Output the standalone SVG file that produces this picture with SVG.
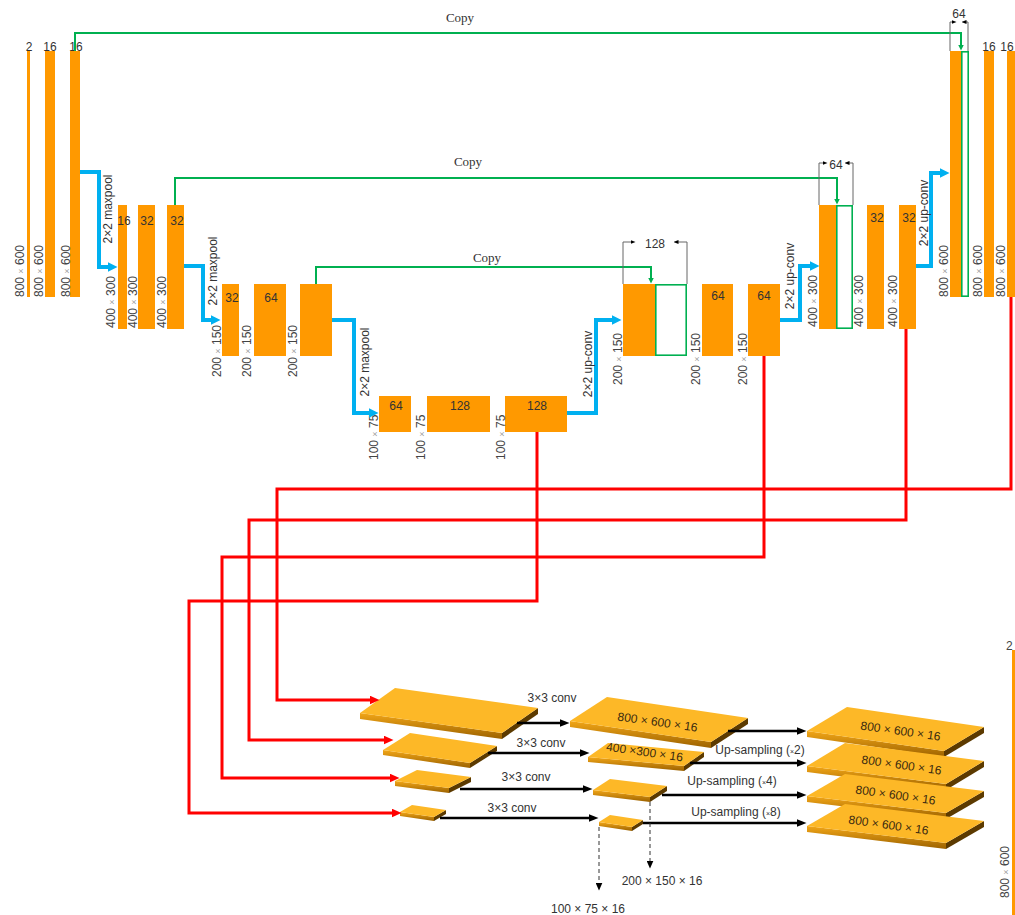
<svg xmlns="http://www.w3.org/2000/svg" width="1015" height="915" viewBox="0 0 1015 915">
<style>
.bar{fill:#FF9900}
.gbox{fill:none;stroke:#00B050;stroke-width:1.6}
.num{font-family:"Liberation Sans",Arial,sans-serif;font-size:12px;fill:#333;text-anchor:middle}
.dim{font-family:"Liberation Sans",Arial,sans-serif;font-size:12px;fill:#444}
.x{font-size:9px;fill:#999}
.xs{font-size:7px}
.op{font-family:"Liberation Sans",Arial,sans-serif;font-size:12px;fill:#333;text-anchor:middle}
.copy{font-family:"Liberation Serif","Times New Roman",serif;font-size:13px;fill:#333;text-anchor:middle}
.lbl{font-family:"Liberation Sans",Arial,sans-serif;font-size:12px;fill:#333;text-anchor:middle}
.slt{font-family:"Liberation Sans",Arial,sans-serif;font-size:12px;fill:#3a2a10;text-anchor:middle}
.top{fill:#FDB827}
.front{fill:url(#gf)}
.side{fill:#5C3A00}
.blue{fill:none;stroke:#00B0F0;stroke-width:4;marker-end:url(#mb)}
.green{fill:none;stroke:#00B050;stroke-width:2;marker-end:url(#mg)}
.red{fill:none;stroke:#FF0000;stroke-width:3;marker-end:url(#mr)}
.blk{fill:none;stroke:#000;stroke-width:2.5;marker-end:url(#mk)}
.dash{fill:none;stroke:#333;stroke-width:1;stroke-dasharray:4 3;marker-end:url(#md)}
.dimln{fill:none;stroke:#666;stroke-width:1;marker-end:url(#mq)}
</style>
<defs>
<linearGradient id="gf" x1="0" y1="0" x2="0" y2="1">
<stop offset="0" stop-color="#F2A617"/>
<stop offset="1" stop-color="#9C6200"/>
</linearGradient>
<marker id="mb" markerUnits="userSpaceOnUse" viewBox="0 0 10 10" markerWidth="10" markerHeight="11" refX="0.5" refY="5" orient="auto"><path d="M0,0 L10,5 L0,10 z" fill="#00B0F0"/></marker>
<marker id="mg" markerUnits="userSpaceOnUse" viewBox="0 0 6 6" markerWidth="6" markerHeight="6" refX="0.5" refY="3" orient="auto"><path d="M0,0 L6,3 L0,6 z" fill="#00B050"/></marker>
<marker id="mr" markerUnits="userSpaceOnUse" viewBox="0 0 10 9" markerWidth="10" markerHeight="9" refX="0.5" refY="4.5" orient="auto"><path d="M0,0 L10,4.5 L0,9 z" fill="#FF0000"/></marker>
<marker id="mk" markerUnits="userSpaceOnUse" viewBox="0 0 10 8" markerWidth="10" markerHeight="8" refX="0.5" refY="4" orient="auto"><path d="M0,0 L10,4 L0,8 z" fill="#000"/></marker>
<marker id="md" markerUnits="userSpaceOnUse" viewBox="0 0 8 7" markerWidth="8" markerHeight="7" refX="0.5" refY="3.5" orient="auto"><path d="M0,0 L8,3.5 L0,7 z" fill="#000"/></marker>
<marker id="mq" markerUnits="userSpaceOnUse" viewBox="0 0 5 4" markerWidth="5" markerHeight="4" refX="0.5" refY="2" orient="auto"><path d="M0,0 L5,2 L0,4 z" fill="#000"/></marker>
</defs>
<rect width="1015" height="915" fill="#fff"/>

<!-- Encoder level 1 -->
<g id="enc1a"><rect class="bar" x="27" y="51" width="3" height="246"/><text class="num" x="29" y="51">2</text><text class="dim" transform="translate(24,297) rotate(-90)">800 <tspan class="x">×</tspan> 600</text></g>
<g id="enc1b"><rect class="bar" x="45" y="51" width="10" height="246"/><text class="num" x="50" y="51">16</text><text class="dim" transform="translate(43,297) rotate(-90)">800 <tspan class="x">×</tspan> 600</text></g>
<g id="enc1c"><rect class="bar" x="70" y="51" width="10" height="246"/><text class="num" x="76" y="51">16</text><text class="dim" transform="translate(70,297) rotate(-90)">800 <tspan class="x">×</tspan> 600</text></g>

<!-- Encoder level 2 -->
<g id="enc2a"><rect class="bar" x="118" y="205" width="9" height="124"/><text class="num" x="124" y="225">16</text><text class="dim" transform="translate(115,328) rotate(-90)">400 <tspan class="x">×</tspan> 300</text></g>
<g id="enc2b"><rect class="bar" x="138" y="205" width="17" height="124"/><text class="num" x="147" y="225">32</text><text class="dim" transform="translate(137,328) rotate(-90)">400 <tspan class="x">×</tspan> 300</text></g>
<g id="enc2c"><rect class="bar" x="167" y="205" width="17" height="124"/><text class="num" x="177" y="225">32</text><text class="dim" transform="translate(166,328) rotate(-90)">400 <tspan class="x">×</tspan> 300</text></g>

<!-- Encoder level 3 -->
<g id="enc3a"><rect class="bar" x="222" y="284" width="17" height="72"/><text class="num" x="232" y="302">32</text><text class="dim" transform="translate(221,377) rotate(-90)">200 <tspan class="x">×</tspan> 150</text></g>
<g id="enc3b"><rect class="bar" x="254" y="284" width="32" height="72"/><text class="num" x="271" y="302">64</text><text class="dim" transform="translate(251,377) rotate(-90)">200 <tspan class="x">×</tspan> 150</text></g>
<g id="enc3c"><rect class="bar" x="300" y="284" width="32" height="72"/><text class="dim" transform="translate(297,377) rotate(-90)">200 <tspan class="x">×</tspan> 150</text></g>

<!-- Bottleneck -->
<g id="bot1"><rect class="bar" x="379" y="396" width="32" height="36"/><text class="num" x="396" y="410">64</text><text class="dim" transform="translate(378,460) rotate(-90)">100 <tspan class="x">×</tspan> 75</text></g>
<g id="bot2"><rect class="bar" x="427" y="396" width="63" height="36"/><text class="num" x="460" y="410">128</text><text class="dim" transform="translate(425,460) rotate(-90)">100 <tspan class="x">×</tspan> 75</text></g>
<g id="bot3"><rect class="bar" x="505" y="396" width="62" height="36"/><text class="num" x="537" y="410">128</text><text class="dim" transform="translate(505,460) rotate(-90)">100 <tspan class="x">×</tspan> 75</text></g>

<!-- Decoder level 3 -->
<g id="dec3a"><rect class="bar" x="623" y="284" width="32" height="72"/><rect class="gbox" x="655.8" y="284.8" width="30.4" height="70.4"/><text class="num" x="655" y="248">128</text><text class="dim" transform="translate(622,385) rotate(-90)">200 <tspan class="x">×</tspan> 150</text></g>
<g id="dec3b"><rect class="bar" x="702" y="284" width="31" height="72"/><text class="num" x="718" y="300">64</text><text class="dim" transform="translate(700,385) rotate(-90)">200 <tspan class="x">×</tspan> 150</text></g>
<g id="dec3c"><rect class="bar" x="748" y="284" width="32" height="72"/><text class="num" x="764" y="300">64</text><text class="dim" transform="translate(747,385) rotate(-90)">200 <tspan class="x">×</tspan> 150</text></g>

<!-- Decoder level 2 -->
<g id="dec2a"><rect class="bar" x="819" y="205" width="17" height="124"/><rect class="gbox" x="836.8" y="205.8" width="15.4" height="122.4"/><text class="num" x="836" y="169">64</text><text class="dim" transform="translate(817,327) rotate(-90)">400 <tspan class="x">×</tspan> 300</text></g>
<g id="dec2b"><rect class="bar" x="867" y="205" width="17" height="124"/><text class="num" x="877" y="222">32</text><text class="dim" transform="translate(863,327) rotate(-90)">400 <tspan class="x">×</tspan> 300</text></g>
<g id="dec2c"><rect class="bar" x="899" y="205" width="17" height="124"/><text class="num" x="909" y="222">32</text><text class="dim" transform="translate(897,327) rotate(-90)">400 <tspan class="x">×</tspan> 300</text></g>

<!-- Decoder level 1 -->
<g id="dec1a"><rect class="bar" x="950" y="51" width="11" height="246"/><rect class="gbox" x="961.8" y="51.8" width="6.4" height="244.4"/><text class="num" x="959" y="18">64</text><text class="dim" transform="translate(948,297) rotate(-90)">800 <tspan class="x">×</tspan> 600</text></g>
<g id="dec1b"><rect class="bar" x="984" y="51" width="10" height="246"/><text class="num" x="989" y="51">16</text><text class="dim" transform="translate(982,297) rotate(-90)">800 <tspan class="x">×</tspan> 600</text></g>
<g id="dec1c"><rect class="bar" x="1007" y="51" width="8" height="246"/><text class="num" x="1007" y="51">16</text><text class="dim" transform="translate(1005,297) rotate(-90)">800 <tspan class="x">×</tspan> 600</text></g>

<!-- Output bar at bottom right -->
<g id="out"><rect class="bar" x="1012" y="650" width="3" height="265"/><text class="dim" x="1006" y="650">2</text><text class="dim" transform="translate(1009,898) rotate(-90)">800 <tspan class="x">×</tspan> 600</text></g>

<!-- Input slabs -->
<g id="s1"><polygon class="front" points="360,713 502,733 502,739 360,719"/><polygon class="side" points="502,733 538,708 538,714 502,739"/><polygon class="top" points="360,713 395,688 538,708 502,733"/></g>
<g id="s2"><polygon class="front" points="383,750 470,763 470,768 383,755"/><polygon class="side" points="470,763 497,746 497,751 470,768"/><polygon class="top" points="383,750 410,733 497,746 470,763"/></g>
<g id="s3"><polygon class="front" points="395,781 449,788 449,793 395,786"/><polygon class="side" points="449,788 471,777 471,782 449,793"/><polygon class="top" points="395,781 417,770 471,777 449,788"/></g>
<g id="s4"><polygon class="front" points="400,812 434,817 434,821 400,816"/><polygon class="side" points="434,817 446,810 446,814 434,821"/><polygon class="top" points="400,812 412,805 446,810 434,817"/></g>

<!-- Conv result slabs -->
<g id="c1"><polygon class="front" points="570,721 711,742 711,748 570,727"/><polygon class="side" points="711,742 748,718 748,724 711,748"/><polygon class="top" points="570,721 607,697 748,718 711,742"/><text class="slt" transform="translate(657,726) rotate(8)">800 × 600 × 16</text></g>
<g id="c2"><polygon class="front" points="588,757 684,766 684,771 588,762"/><polygon class="side" points="684,766 704,752 704,757 684,771"/><polygon class="top" points="588,757 608,743 704,752 684,766"/><text class="slt" transform="translate(644,756) rotate(8)">400 ×300  × 16</text></g>
<g id="c3"><polygon class="front" points="593,790 650,797 650,802 593,795"/><polygon class="side" points="650,797 667,786 667,791 650,802"/><polygon class="top" points="593,790 610,779 667,786 650,797"/></g>
<g id="c4"><polygon class="front" points="599,822 632,827 632,831 599,826"/><polygon class="side" points="632,827 643,820 643,824 632,831"/><polygon class="top" points="599,822 610,815 643,820 632,827"/></g>

<!-- Upsampled slabs -->
<g id="u1"><polygon class="front" points="807,731 944,751 944,757 807,737"/><polygon class="side" points="944,751 984,727 984,733 944,757"/><polygon class="top" points="807,731 847,707 984,727 944,751"/><text class="slt" transform="translate(900,735) rotate(8)">800 × 600 × 16</text></g>
<g id="u2"><polygon class="front" points="807,766 946,784 946,790 807,772"/><polygon class="side" points="946,784 984,761 984,767 946,790"/><polygon class="top" points="807,766 845,743 984,761 946,784"/><text class="slt" transform="translate(901,769) rotate(8)">800 × 600 × 16</text></g>
<g id="u3"><polygon class="front" points="807,796 946,813 946,819 807,802"/><polygon class="side" points="946,813 984,791 984,797 946,819"/><polygon class="top" points="807,796 845,774 984,791 946,813"/><text class="slt" transform="translate(895,799) rotate(8)">800 × 600 × 16</text></g>
<g id="u4"><polygon class="front" points="807,826 946,843 946,849 807,832"/><polygon class="side" points="946,843 984,821 984,827 946,849"/><polygon class="top" points="807,826 845,804 984,821 946,843"/><text class="slt" transform="translate(888,829) rotate(8)">800 × 600 × 16</text></g>

<g id="connectors">
<!-- copy connections -->
<path class="green" d="M75,51 V33 H961 V45"/>
<path class="green" d="M175,205 V178 H837 V199"/>
<path class="green" d="M316,284 V267 H651 V278"/>
<text class="copy" x="460" y="22">Copy</text>
<text class="copy" x="468" y="166">Copy</text>
<text class="copy" x="487" y="262">Copy</text>
<!-- dimension brackets -->
<path class="dimln" d="M623,284 V242 H631"/>
<path class="dimln" d="M687,284 V242 H678"/>
<path class="dimln" d="M819,205 V163 H823"/>
<path class="dimln" d="M853,205 V163 H849"/>
<path class="dimln" d="M950,51 V22 H952"/>
<path class="dimln" d="M968,51 V22 H966"/>
<!-- pooling / up-conv -->
<path class="blue" d="M80,172 H99 V267 H108"/>
<path class="blue" d="M184,266 H203 V320 H211"/>
<path class="blue" d="M332,320 H354 V413 H369"/>
<path class="blue" d="M567,413 H596 V320 H612"/>
<path class="blue" d="M780,320 H800 V266 H810"/>
<path class="blue" d="M916,266 H931 V173 H940"/>
<text class="lbl" transform="translate(112,209) rotate(-90)">2×2 maxpool</text>
<text class="lbl" transform="translate(217,271) rotate(-90)">2×2 maxpool</text>
<text class="lbl" transform="translate(369,362) rotate(-90)">2×2 maxpool</text>
<text class="lbl" transform="translate(592,364) rotate(-90)">2×2 up-conv</text>
<text class="lbl" transform="translate(794,276) rotate(-90)">2×2 up-conv</text>
<text class="lbl" transform="translate(928,213) rotate(-90)">2×2 up-conv</text>
<!-- feature routing -->
<path class="red" d="M1011,297 V489 H277 V700 H370"/>
<path class="red" d="M906,329 V520 H249 V740 H384"/>
<path class="red" d="M764,356 V557 H222 V778 H390"/>
<path class="red" d="M537,432 V601 H189 V813 H392"/>
<!-- conv -->
<path class="blk" d="M517,723 H560"/>
<path class="blk" d="M488,753 H580"/>
<path class="blk" d="M460,789 H583"/>
<path class="blk" d="M440,818 H589"/>
<text class="op" x="552" y="702">3×3 conv</text>
<text class="op" x="541" y="747">3×3 conv</text>
<text class="op" x="526" y="781">3×3 conv</text>
<text class="op" x="512" y="812">3×3 conv</text>
<!-- upsampling -->
<path class="blk" d="M728,731 H797"/>
<path class="blk" d="M690,763 H797"/>
<path class="blk" d="M662,795 H797"/>
<path class="blk" d="M643,823 H797"/>
<text class="op" x="760" y="754">Up-sampling (<tspan class="xs">×</tspan>2)</text>
<text class="op" x="732" y="785">Up-sampling (<tspan class="xs">×</tspan>4)</text>
<text class="op" x="736" y="816">Up-sampling (<tspan class="xs">×</tspan>8)</text>
<!-- dashed outputs -->
<path class="dash" d="M650,802 V861"/>
<path class="dash" d="M599,827 V883"/>
<text class="op" x="662" y="885">200 × 150 × 16</text>
<text class="op" x="588" y="913">100 × 75 × 16</text>
</g>
</svg>
